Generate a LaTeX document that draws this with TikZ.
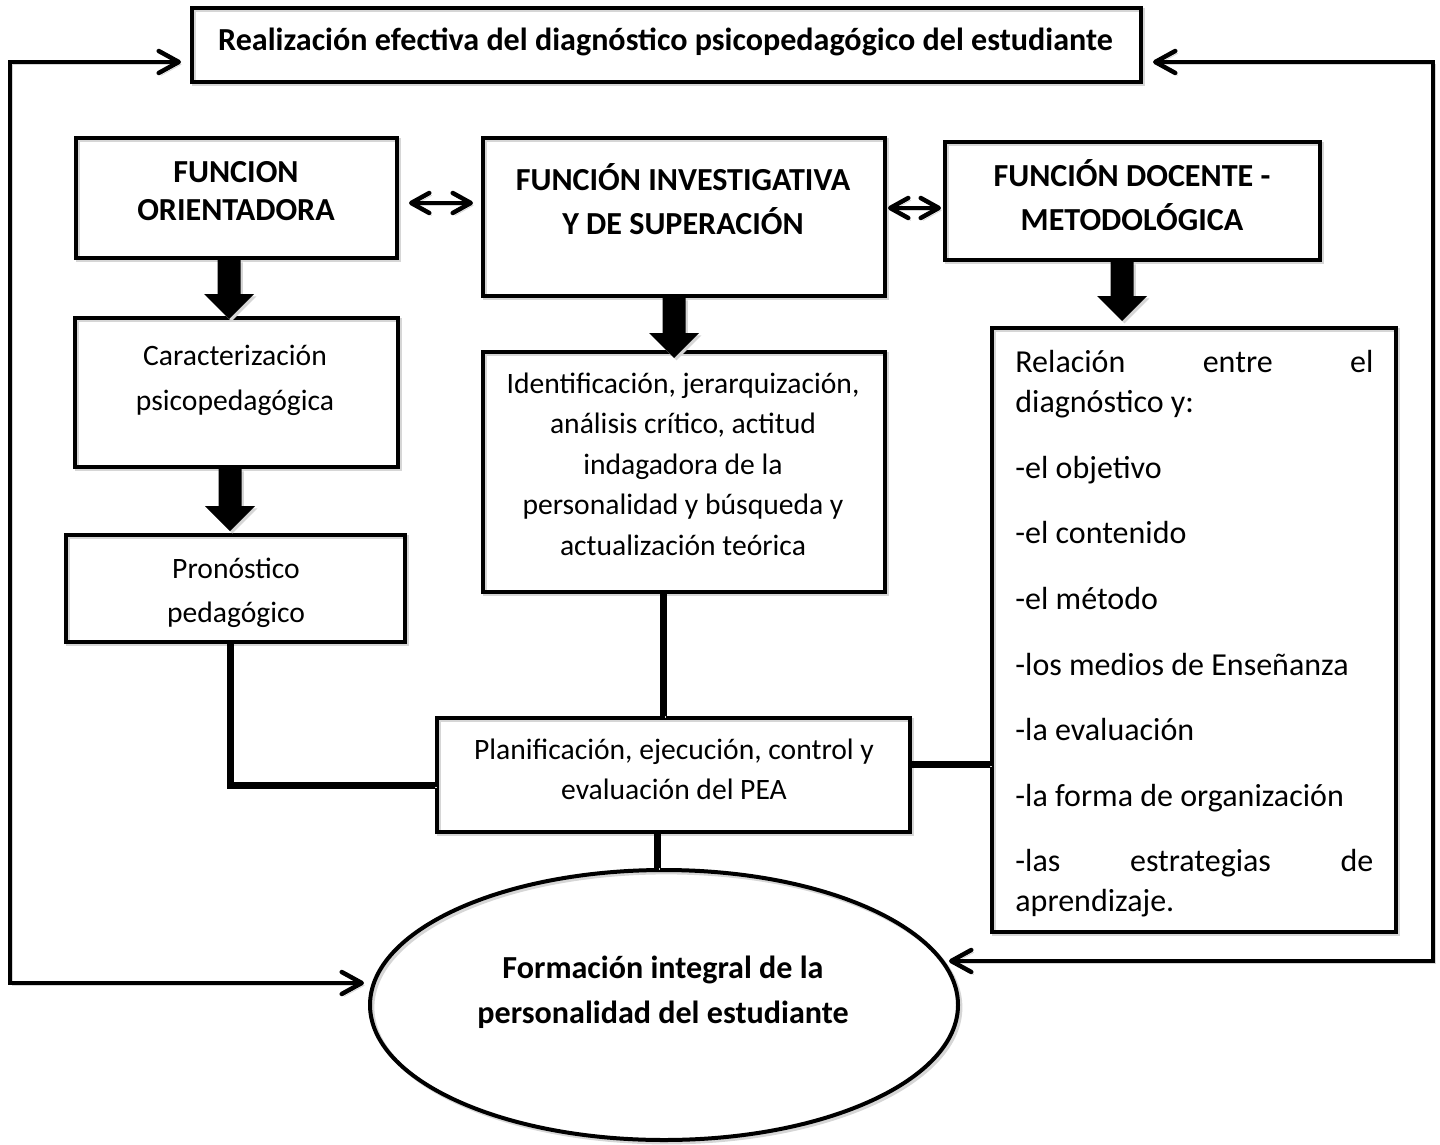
\documentclass[tikz,border=0pt]{standalone}
\usepackage{fontspec}
\setmainfont{Carlito}
\usetikzlibrary{arrows.meta,calc,shapes.geometric}
\newcommand\fs{\rule{0pt}{14pt}}
\newcommand\blockarrow[2]{\fill[shf] ($(#1)+(-11.5,0)$) -- ($(#1)+(11.5,0)$) -- ($(#2)+(11.5,-25)$) -- ($(#2)+(25,-25)$) -- (#2) -- ($(#2)+(-25,-25)$) -- ($(#2)+(-11.5,-25)$) -- cycle;}
\tikzset{
  sh/.style={preaction={draw=black!16, transform canvas={shift={(1.2pt,-1.2pt)}}}},
  shf/.style={preaction={fill=black!16, transform canvas={shift={(1.2pt,-1.2pt)}}}},
  box/.style={draw, line width=2pt, rectangle, inner sep=0pt, sh},
  txt/.style={inner sep=0pt, align=flush center},
  bfont/.style={font=\fontsize{16.05}{#1}\selectfont\bfseries},
  rfont/.style={font=\fontsize{14.8}{#1}\selectfont},
  loopline/.style={sh, line width=2.25pt, {Straight Barb[length=10pt,width=11pt,round]}-{Straight Barb[length=10pt,width=11pt,round]}},
  dbl/.style={sh, line width=2.25pt, {Straight Barb[length=9pt,width=10pt,round]}-{Straight Barb[length=9pt,width=10pt,round]}},
  thickc/.style={sh, line width=3.5pt},
}
\begin{document}
\begin{tikzpicture}[x=0.5pt,y=-0.5pt]
\useasboundingbox (0,0) rectangle (1440,1145);
% boxes
\node[box, minimum width=474.5pt, minimum height=37pt] (top) at (666.5,45) {};
\node[box, minimum width=160.5pt, minimum height=60pt] (orient) at (236.5,198) {};
\node[box, minimum width=201pt, minimum height=79pt] (invest) at (684,217) {};
\node[box, minimum width=187.5pt, minimum height=59pt] (docente) at (1132.5,201) {};
\node[box, minimum width=161.5pt, minimum height=74.5pt] (caract) at (236.5,392.5) {};
\node[box, minimum width=169.5pt, minimum height=53.5pt] (pronost) at (235.5,588.5) {};
\node[box, minimum width=201pt, minimum height=120pt] (ident) at (684,472) {};
\node[box, minimum width=202pt, minimum height=302pt] (relacion) at (1194,630) {};
\node[box, minimum width=236.5pt, minimum height=57pt] (planif) at (673.5,775) {};
\node[draw, line width=2pt, ellipse, inner sep=0pt, minimum width=294pt, minimum height=135pt, sh] (ell) at (664,1005) {};
% texts
\node[txt, anchor=base, bfont=19] (toptxt) at (665.5,51) {Realización efectiva del diagnóstico psicopedagógico del estudiante};
\node[txt, anchor=north, bfont=19] (orienttxt) at (236,154) {\fs FUNCION\\ORIENTADORA};
\node[txt, anchor=north, bfont=22] (investtxt) at (683,162) {\fs FUNCIÓN INVESTIGATIVA\\Y DE SUPERACIÓN};
\node[txt, anchor=north, bfont=22] (docentetxt) at (1132,158) {\fs FUNCIÓN DOCENTE -\\METODOLÓGICA};
\node[txt, anchor=north, rfont=22.5] (caracttxt) at (235,337) {\fs Caracterización\\psicopedagógica};
\node[txt, anchor=north, rfont=22] (pronosttxt) at (236,550) {\fs Pronóstico\\pedagógico};
\node[txt, anchor=north, rfont=20.25] (identtxt) at (683,365) {\fs Identificación, jerarquización,\\análisis crítico, actitud\\indagadora de la\\personalidad y búsqueda y\\actualización teórica};
\node[txt, anchor=north, rfont=20] (planiftxt) at (674,731) {\fs Planificación, ejecución, control y\\evaluación del PEA};
\node[txt, anchor=north, bfont=22.5] (elltxt) at (663,950) {\fs Formación integral de la\\personalidad del estudiante};
\node[inner sep=0pt, align=flush left, text width=179pt, anchor=north west, font=\fontsize{16}{20}\selectfont] (relaciontxt) at (1015,344) {\fs\makebox[179pt][l]{Relación\hfill entre\hfill el}\\
diagnóstico y:\\[13pt]
-el objetivo\\[12.5pt]
-el contenido\\[13pt]
-el método\\[13pt]
-los medios de Enseñanza\\[12.5pt]
-la evaluación\\[13pt]
-la forma de organización\\[12.5pt]
\makebox[179pt][l]{-las\hfill estrategias\hfill de}\\
aprendizaje.};
% block arrows
\coordinate (a1s) at (orient.south -| 229,0);
\coordinate (a1e) at ($(caract.north -| 229,0)+(0,3)$);
\blockarrow{a1s}{a1e}
\coordinate (a2s) at (caract.south -| 230,0);
\coordinate (a2e) at ($(pronost.north -| 230,0)+(0,-2)$);
\blockarrow{a2s}{a2e}
\coordinate (a3s) at (invest.south -| 674,0);
\coordinate (a3e) at ($(ident.north -| 674,0)+(0,8)$);
\blockarrow{a3s}{a3e}
\coordinate (a4s) at (docente.south -| 1122,0);
\coordinate (a4e) at ($(relacion.north -| 1122,0)+(0,-5)$);
\blockarrow{a4s}{a4e}
% double arrows
\coordinate (d1) at ($(orient.east)+(10,5)$);
\draw[dbl] (d1) -- ($(d1 -| invest.west)+(-8,0)$);
\coordinate (d2) at ($(docente.west)+(-2,7)$);
\draw[dbl] (d2) -- ($(d2 -| invest.east)+(1,0)$);
% thick connectors
\draw[thickc] (pronost.south -| 230,0) |- ($(planif.west)+(0,10)$);
\draw[thickc] (ident.south -| 663,0) -- (planif.north -| 663,0);
\coordinate (p1) at ($(planif.east)+(0,-11)$);
\draw[thickc] (p1) -- (p1 -| relacion.west);
\draw[thickc] (planif.south -| 657,0) -- (ell.north -| 657,0);
% loops
\coordinate (tA) at ($(top.west)+(-9,17)$);
\coordinate (tB) at ($(ell.west)+(-4,-22)$);
\coordinate (cL) at (10,983);
\draw[loopline] (tA) -| (cL) -- (tB);
\coordinate (tC) at ($(top.east)+(10,17)$);
\coordinate (tD) at ($(ell.east)+(-11,-44)$);
\coordinate (cR) at (1433,961);
\draw[loopline] (tC) -| (cR) -- (tD);
\end{tikzpicture}
\end{document}
